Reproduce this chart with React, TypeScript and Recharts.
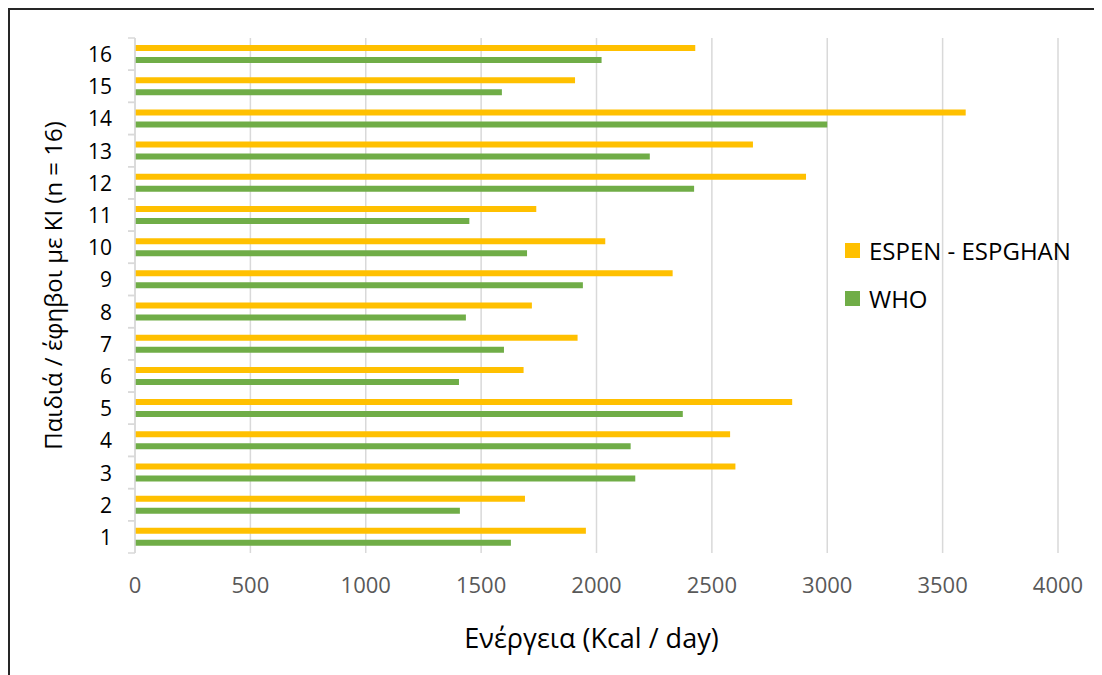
import { BarChart, Bar, XAxis, YAxis, CartesianGrid, Legend, Label } from 'recharts'

const children = ['1', '2', '3', '4', '5', '6', '7', '8', '9', '10', '11', '12', '13', '14', '15', '16']
const espenValues = [1954, 1690, 2602, 2579, 2848, 1684, 1918, 1720, 2330, 2038, 1739, 2908, 2678, 3600, 1907, 2428]
const whoValues = [1629, 1408, 2168, 2148, 2374, 1404, 1599, 1434, 1941, 1699, 1449, 2423, 2231, 3000, 1590, 2022]
const energyTicks = [0, 500, 1000, 1500, 2000, 2500, 3000, 3500, 4000]

const seriesNames = { espen: 'ESPEN - ESPGHAN', who: 'WHO' }
const colors = { espen: '#FFC000', who: '#70AD47' }

const chartData = children.map((child, i) => ({
  child,
  espen: espenValues[i],
  who: whoValues[i],
}))

const FONT = '"Open Sans", sans-serif'
const CHART_W = 1130
const CHART_H = 665
const MARGIN = { top: 28, right: 82, left: 0, bottom: 22 }
const X_AXIS_H = 100
const Y_AXIS_W = 125
const bandSize = (CHART_H - MARGIN.top - MARGIN.bottom - X_AXIS_H) / children.length

// y tick: label at band centre, small tick marks at band boundaries (like Excel)
const ChildTick = (props: any) => {
  const { x, y, payload } = props
  return (
    <g>
      <line x1={x - 7} x2={x} y1={y - bandSize / 2} y2={y - bandSize / 2} stroke="#d9d9d9" strokeWidth={1.5} />
      <line x1={x - 7} x2={x} y1={y + bandSize / 2} y2={y + bandSize / 2} stroke="#d9d9d9" strokeWidth={1.5} />
      <text x={x - 23} y={y} textAnchor="end" dominantBaseline="central" fontSize={21} fill="#000" fontFamily={FONT}>
        {payload.value}
      </text>
    </g>
  )
}

const LegendBox = (props: any) => {
  const { payload } = props
  return (
    <div style={{ fontFamily: FONT }}>
      {payload.map((entry: any) => (
        <div key={entry.value} style={{ display: 'flex', alignItems: 'center', height: 48 }}>
          <div style={{ width: 15, height: 15, backgroundColor: entry.color, marginRight: 9 }} />
          <span style={{ fontSize: 24, color: '#000', whiteSpace: 'nowrap' }}>{entry.value}</span>
        </div>
      ))}
    </div>
  )
}

export default function App() {
  return (
    <>
      <style>{'html, body { overflow: hidden; }'}</style>
      <div
        style={{
          width: 1132,
          height: 667,
          borderTop: '2px solid #262626',
          borderLeft: '2px solid #262626',
          boxSizing: 'border-box',
          background: '#fff',
          overflow: 'hidden',
        }}
      >
        <BarChart
          width={CHART_W}
          height={CHART_H}
          data={chartData}
          layout="vertical"
          margin={MARGIN}
          barSize={6}
          barGap={6}
        >
          <CartesianGrid horizontal={false} stroke="#d9d9d9" strokeWidth={1.5} />
          <XAxis
            type="number"
            domain={[0, 4000]}
            ticks={energyTicks}
            axisLine={false}
            tickLine={false}
            tickSize={0}
            tickMargin={24}
            height={X_AXIS_H}
            tick={{ fontSize: 22, fill: '#595959', fontFamily: FONT }}
            interval={0}
          >
            <Label
              content={(p: any) => {
                const vb = p.viewBox
                return (
                  <text
                    x={vb.x + vb.width / 2 - 5}
                    y={vb.y + 84}
                    textAnchor="middle"
                    dominantBaseline="central"
                    fontSize={27}
                    fill="#000"
                    fontFamily={FONT}
                  >
                    Ενέργεια (Kcal / day)
                  </text>
                )
              }}
            />
          </XAxis>
          <YAxis
            type="category"
            dataKey="child"
            reversed
            width={Y_AXIS_W}
            axisLine={{ stroke: '#d9d9d9', strokeWidth: 1.5 }}
            tickLine={false}
            tickSize={0}
            tickMargin={0}
            tick={<ChildTick />}
            interval={0}
          >
            <Label
              content={(p: any) => {
                const vb = p.viewBox
                const cx = vb.x + 42
                const cy = vb.y + vb.height / 2 - 10
                return (
                  <text
                    x={cx}
                    y={cy}
                    transform={`rotate(-90 ${cx} ${cy})`}
                    textAnchor="middle"
                    dominantBaseline="central"
                    fontSize={24}
                    fill="#000"
                    fontFamily={FONT}
                  >
                    Παιδιά / έφηβοι με ΚΙ (n = 16)
                  </text>
                )
              }}
            />
          </YAxis>
          <Legend
            layout="vertical"
            align="center"
            verticalAlign="middle"
            content={<LegendBox />}
            wrapperStyle={{ position: 'absolute', left: 835, top: 216, width: 250 }}
          />
          <Bar dataKey="espen" name={seriesNames.espen} fill={colors.espen} isAnimationActive={false} />
          <Bar dataKey="who" name={seriesNames.who} fill={colors.who} isAnimationActive={false} />
        </BarChart>
      </div>
    </>
  )
}
